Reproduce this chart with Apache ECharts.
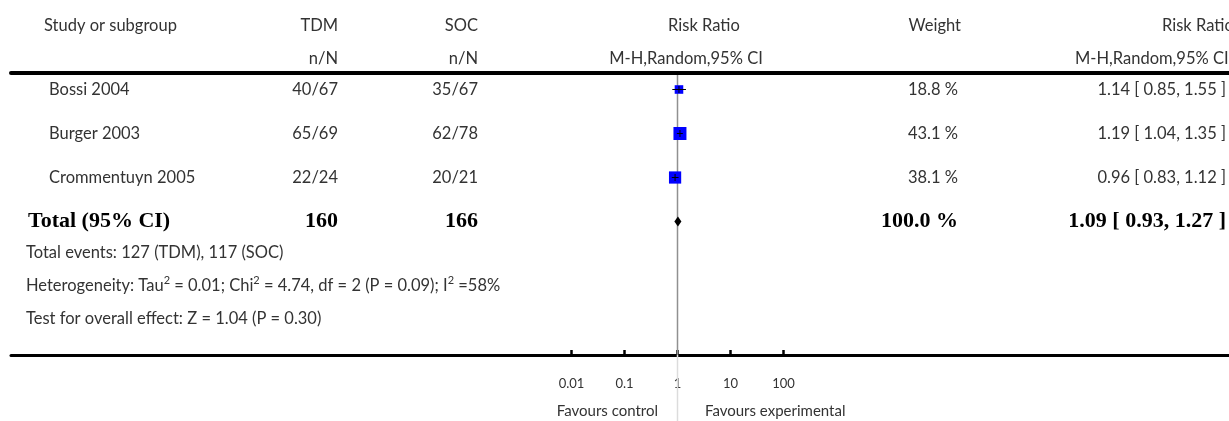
<!DOCTYPE html>
<html>
<head>
<meta charset="utf-8">
<script src="https://cdn.jsdelivr.net/npm/echarts@6/dist/echarts.min.js"></script>
<style>
html,body{margin:0;padding:0;background:#fff;}
#chart{width:1229px;height:421px;}
</style>
</head>
<body>
<div id="chart"></div>
<script>
// ---- data ----
const studies = ['Bossi 2004', 'Burger 2003', 'Crommentuyn 2005'];
const tdmEvents = ['40/67', '65/69', '22/24'];
const socEvents = ['35/67', '62/78', '20/21'];
const riskRatio = [1.14, 1.19, 0.96];
const ciLow = [0.85, 1.04, 0.83];
const ciHigh = [1.55, 1.35, 1.12];
const weights = [18.8, 43.1, 38.1];

const totalLabel = 'Total (95% CI)';
const totalTdm = '160';
const totalSoc = '166';
const totalRR = [1.09, 0.93, 1.27];   // estimate, low, high
const totalWeight = 100.0;

const tickLabels = ['0.01', '0.1', '1', '10', '100'];
const footnotes = [
  'Total events: 127 (TDM), 117 (SOC)',
  'Heterogeneity: Tau\u00B2 = 0.01; Chi\u00B2 = 4.74, df = 2 (P = 0.09); I\u00B2 =58%',
  'Test for overall effect: Z = 1.04 (P = 0.30)'
];

// ---- derived columns ----
const fmtCI = (r, l, h) => r.toFixed(2) + ' [ ' + l.toFixed(2) + ', ' + h.toFixed(2) + ' ]';
const nameCol = studies.concat([totalLabel]);
const tdmCol = tdmEvents.concat([totalTdm]);
const socCol = socEvents.concat([totalSoc]);
const weightCol = weights.map(w => w.toFixed(1) + ' %').concat([totalWeight.toFixed(1) + ' %']);
const ciCol = riskRatio.map((r, i) => fmtCI(r, ciLow[i], ciHigh[i])).concat([fmtCI(totalRR[0], totalRR[1], totalRR[2])]);
const maxW = Math.max.apply(null, weights);

const studyData = riskRatio.map((r, i) => [r, i, ciLow[i], ciHigh[i], weights[i]]);
const totalData = [[totalRR[0], studies.length, totalRR[1], totalRR[2]]];

// ---- styles ----
const FONT = 'Lato';
const FS = 16.5;
const TXT = '#333';
const totalIdx = studies.length;
const rich = {
  n: {fontFamily: FONT, fontSize: FS, color: TXT},
  s: {fontFamily: FONT, fontSize: FS, color: TXT, padding: [0, 0, 0, 21]},
  t: {fontFamily: 'Liberation Serif', fontSize: 22, fontWeight: 'bold', color: '#000'}
};
function colAxis(data, position, margin, align, isName) {
  return {
    type: 'category', gridIndex: 0, position: position, inverse: true, data: data,
    axisLine: {show: false}, axisTick: {show: false}, splitLine: {show: false},
    axisLabel: {
      show: true, interval: 0, margin: margin, align: align, rich: rich,
      formatter: (v, i) => i === totalIdx ? '{t|' + v + '}' : (isName ? '{s|' + v + '}' : '{n|' + v + '}')
    }
  };
}

const GL = 571.5, GR = 1229 - 783.5;
const hidden = {axisLine: {show: false}, axisTick: {show: false}, axisLabel: {show: false}, splitLine: {show: false}};

function headerText(text, x, y, align) {
  return {type: 'text', x: x, y: y, style: {text: text, fontFamily: FONT, fontSize: FS, fill: TXT, align: align, verticalAlign: 'middle'}};
}
function noteText(text, x, y) {
  return {type: 'text', x: x, y: y, style: {
    text: text.replace(/\u00B2/g, '{sup|2}'),
    fontFamily: FONT, fontSize: FS, fill: TXT, lineHeight: 22, align: 'left', verticalAlign: 'middle',
    rich: {sup: {fontFamily: FONT, fontSize: 11, lineHeight: 11, fill: TXT, verticalAlign: 'top'}}
  }};
}

const chart = echarts.init(document.getElementById('chart'), null, {renderer: 'canvas'});
chart.setOption({
  animation: false,
  backgroundColor: '#fff',
  grid: [
    {left: GL, right: GR, top: 67.5, height: 176},        // rows
    {left: GL, right: GR, top: 75, bottom: 66},           // forest axis
    {left: 11, right: 0, top: 73, bottom: 66},            // full-width rules
    {left: GL, right: GR, top: 355, bottom: 0}            // reference line below axis
  ],
  xAxis: [
    Object.assign({type: 'log', logBase: 10, min: 0.01, max: 100, gridIndex: 0}, hidden),
    {
      type: 'log', logBase: 10, min: 0.01, max: 100, interval: 1, gridIndex: 1, position: 'bottom',
      axisLine: {show: false},
      axisTick: {show: true, inside: true, length: 5, lineStyle: {color: '#000', width: 2.5}},
      axisLabel: {
        show: true, margin: 22, fontFamily: FONT, fontSize: 13, color: TXT,
        formatter: v => tickLabels[Math.round(Math.log10(v)) + 2]
      },
      splitLine: {show: false}, minorTick: {show: false}
    },
    {type: 'value', gridIndex: 2, position: 'bottom', min: 0, max: 1,
      axisLine: {show: true, onZero: false, lineStyle: {color: '#000', width: 3}},
      axisTick: {show: false}, axisLabel: {show: false}, splitLine: {show: false}},
    {type: 'value', gridIndex: 2, position: 'top', min: 0, max: 1,
      axisLine: {show: true, onZero: false, lineStyle: {color: '#000', width: 4}},
      axisTick: {show: false}, axisLabel: {show: false}, splitLine: {show: false}},
    Object.assign({type: 'log', logBase: 10, min: 0.01, max: 100, gridIndex: 3}, hidden)
  ],
  yAxis: [
    colAxis(nameCol, 'left', GL - 28, 'left', true),
    colAxis(tdmCol, 'left', GL - 338, 'right', false),
    colAxis(socCol, 'left', GL - 478, 'right', false),
    colAxis(weightCol, 'right', 961 - 783.5, 'right', false),
    colAxis(ciCol, 'right', 1229 - 783.5, 'right', false),
    Object.assign({type: 'value', gridIndex: 1, min: 0, max: 1}, hidden),
    Object.assign({type: 'value', gridIndex: 2, min: 0, max: 1}, hidden),
    Object.assign({type: 'value', gridIndex: 3, min: 0, max: 1}, hidden)
  ],
  series: [
    {
      type: 'custom', xAxisIndex: 1, yAxisIndex: 5, data: [[1]], silent: true,
      renderItem: (params, api) => {
        const a = api.coord([api.value(0), 0]);
        const b = api.coord([api.value(0), 1]);
        return {type: 'line', shape: {x1: a[0], y1: a[1], x2: b[0], y2: b[1]}, style: {stroke: '#909090', lineWidth: 1.5}};
      }
    },
    {
      type: 'custom', xAxisIndex: 4, yAxisIndex: 7, data: [[1]], silent: true,
      renderItem: (params, api) => {
        const a = api.coord([api.value(0), 0]);
        const b = api.coord([api.value(0), 1]);
        return {type: 'line', shape: {x1: a[0], y1: a[1], x2: b[0], y2: b[1]}, style: {stroke: '#dcdcdc', lineWidth: 1.5}};
      }
    },
    {
      type: 'custom', xAxisIndex: 0, yAxisIndex: 0, data: studyData, silent: true,
      encode: {x: [0, 2, 3], y: 1},
      renderItem: (params, api) => {
        const c = api.coord([api.value(0), api.value(1)]);
        const l = api.coord([api.value(2), api.value(1)]);
        const h = api.coord([api.value(3), api.value(1)]);
        const s = 13 * Math.sqrt(api.value(4) / maxW);
        return {type: 'group', children: [
          {type: 'rect', shape: {x: c[0] - s / 2, y: c[1] - s / 2, width: s, height: s}, style: {fill: '#0000ff'}},
          {type: 'line', shape: {x1: l[0], y1: c[1], x2: h[0], y2: c[1]}, style: {stroke: '#000', lineWidth: 1}},
          {type: 'line', shape: {x1: c[0], y1: c[1] - 3.5, x2: c[0], y2: c[1] + 3.5}, style: {stroke: '#000', lineWidth: 1}}
        ]};
      }
    },
    {
      type: 'custom', xAxisIndex: 0, yAxisIndex: 0, data: totalData, silent: true,
      encode: {x: [0, 2, 3], y: 1},
      renderItem: (params, api) => {
        const c = api.coord([api.value(0), api.value(1)]);
        const l = api.coord([api.value(2), api.value(1)]);
        const h = api.coord([api.value(3), api.value(1)]);
        return {type: 'polygon', shape: {points: [[l[0], c[1]], [c[0], c[1] - 5], [h[0], c[1]], [c[0], c[1] + 5]]}, style: {fill: '#000'}};
      }
    }
  ],
  graphic: [
    headerText('Study or subgroup', 44, 26, 'left'),
    headerText('TDM', 338, 26, 'right'),
    headerText('SOC', 478, 26, 'right'),
    headerText('Risk Ratio', 704, 26, 'center'),
    headerText('Weight', 961, 26, 'right'),
    headerText('Risk Ratio', 1162, 26, 'left'),
    headerText('n/N', 338, 59, 'right'),
    headerText('n/N', 478, 59, 'right'),
    headerText('M-H,Random,95% CI', 686, 59, 'center'),
    headerText('M-H,Random,95% CI', 1075, 59, 'left'),
    noteText(footnotes[0], 26, 253),
    noteText(footnotes[1], 26, 286),
    noteText(footnotes[2], 26, 319),
    {type: 'text', x: 658, y: 411, style: {text: 'Favours control', fontFamily: FONT, fontSize: 15, fill: TXT, align: 'right', verticalAlign: 'middle'}},
    {type: 'text', x: 705, y: 411, style: {text: 'Favours experimental', fontFamily: FONT, fontSize: 15, fill: TXT, align: 'left', verticalAlign: 'middle'}}
  ]
});
</script>
</body>
</html>
